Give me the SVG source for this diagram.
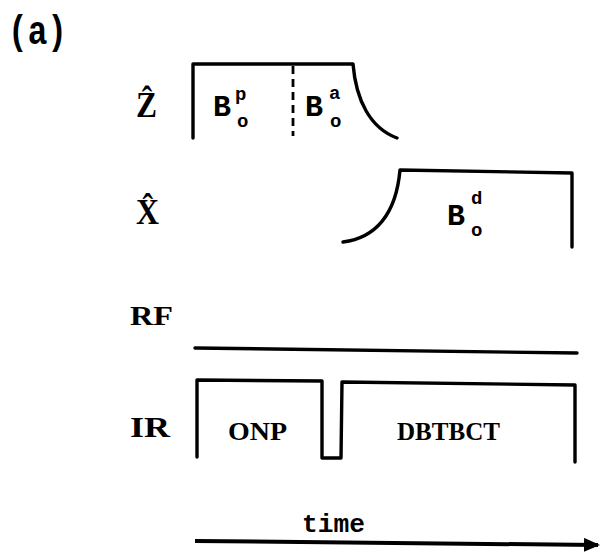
<svg xmlns="http://www.w3.org/2000/svg" width="600" height="553" viewBox="0 0 600 553">
<style>
.ln{fill:none;stroke:#000;stroke-width:3.4;stroke-linecap:round;stroke-linejoin:round}
.mono{font-family:"Liberation Mono","DejaVu Sans Mono",monospace;font-weight:bold;fill:#000}
.serif{font-family:"Liberation Serif","DejaVu Serif",serif;font-weight:bold;fill:#000}
</style>
<defs>
<marker id="arr" markerWidth="16" markerHeight="14" refX="14" refY="7" orient="auto" markerUnits="userSpaceOnUse">
<path d="M0,0 L16,7 L0,14 Z" fill="#000"/>
</marker>
</defs>
<g id="title"><text class="mono" x="8" y="44" font-size="40" textLength="59" lengthAdjust="spacingAndGlyphs">(a)</text></g>
<g id="label-z"><text class="serif" x="136" y="117" font-size="35" textLength="21" lengthAdjust="spacingAndGlyphs">Ẑ</text></g>
<g id="label-x"><text class="serif" x="136" y="224" font-size="35" textLength="23" lengthAdjust="spacingAndGlyphs">X̂</text></g>
<g id="label-rf"><text class="serif" x="130" y="325" font-size="28" textLength="43" lengthAdjust="spacingAndGlyphs">RF</text></g>
<g id="label-ir"><text class="serif" x="130" y="437" font-size="29" textLength="40" lengthAdjust="spacingAndGlyphs">IR</text></g>
<g id="z-waveform">
<path class="ln" d="M193,138 L193,64 L353,64 C356,100 370,128 397,138"/>
<line x1="293" y1="66" x2="293" y2="136" stroke="#000" stroke-width="2.8" stroke-dasharray="8,5"/>
<text class="mono" x="213" y="116" font-size="30">B</text>
<text class="mono" x="235" y="100" font-size="19">p</text>
<text class="mono" x="237" y="127" font-size="19">o</text>
<text class="mono" x="305" y="116" font-size="30">B</text>
<text class="mono" x="329" y="99" font-size="19">a</text>
<text class="mono" x="330" y="127" font-size="19">o</text>
</g>
<g id="x-waveform">
<path class="ln" d="M343,242 C375,238 396,215 400,170 L572,173 L572,247"/>
<text class="mono" x="447" y="225" font-size="30">B</text>
<text class="mono" x="471" y="204" font-size="19">d</text>
<text class="mono" x="471" y="236" font-size="19">o</text>
</g>
<g id="rf-waveform"><line class="ln" x1="195" y1="348" x2="577" y2="353"/></g>
<g id="ir-waveform">
<path class="ln" d="M197,457 L197,380 L322,381 L322,458 L341,458 L342,382 L575,385 L575,462"/>
<text class="serif" x="228" y="440" font-size="25" textLength="59" lengthAdjust="spacingAndGlyphs">ONP</text>
<text class="serif" x="397" y="440" font-size="25" textLength="103" lengthAdjust="spacingAndGlyphs">DBTBCT</text>
</g>
<g id="connectors">
<line x1="195" y1="541" x2="598" y2="545" stroke="#000" stroke-width="4" marker-end="url(#arr)"/>
<text class="mono" x="302" y="532" font-size="26" textLength="63" lengthAdjust="spacingAndGlyphs">time</text>
</g>
</svg>
